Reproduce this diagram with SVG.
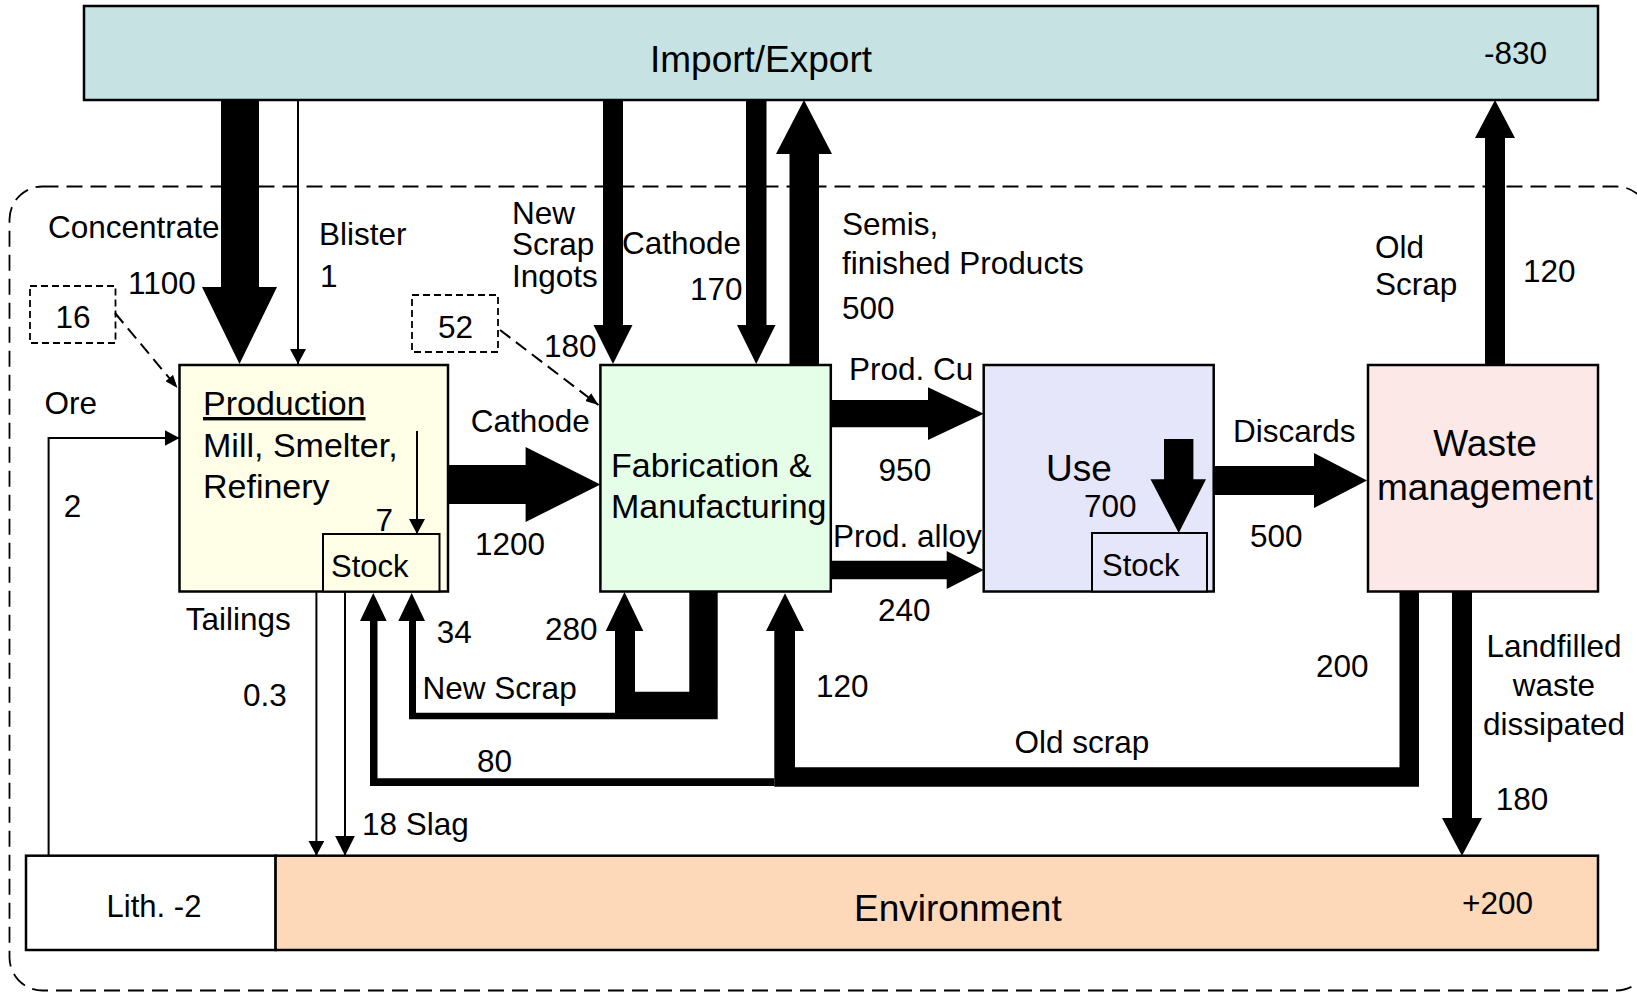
<svg xmlns="http://www.w3.org/2000/svg" width="1637" height="992" viewBox="0 0 1637 992">
<style>
text{font-family:"Liberation Sans",Arial,Helvetica,sans-serif;fill:#000}
.t{font-size:31.5px}
.n{font-size:34px}
.b{font-size:37px}
.s{font-size:31px}
.mid{text-anchor:middle}
.box{stroke:#000;stroke-width:2.5}
.sbox{stroke:#000;stroke-width:2}
.flow{fill:#000;stroke:none}
.thin{stroke:#000;stroke-width:2;fill:none}
.dash{stroke:#000;stroke-width:2;fill:none;stroke-dasharray:13 7}
.dbox{stroke:#000;stroke-width:1.8;fill:#fff;stroke-dasharray:7 4}
.border{stroke:#000;stroke-width:1.8;fill:none;stroke-dasharray:16 8}
</style>
<defs>
<marker id="head" markerUnits="userSpaceOnUse" markerWidth="15" markerHeight="16" viewBox="0 0 15 16" refX="15" refY="8" orient="auto">
<path d="M0,0 L15,8 L0,16 Z" fill="#000"/>
</marker>
<marker id="headL" markerUnits="userSpaceOnUse" markerWidth="20" markerHeight="20" viewBox="0 0 20 20" refX="20" refY="10" orient="auto">
<path d="M0,0 L20,10 L0,20 Z" fill="#000"/>
</marker>
<marker id="headS" markerUnits="userSpaceOnUse" markerWidth="13" markerHeight="10" viewBox="0 0 13 10" refX="13" refY="5" orient="auto">
<path d="M0,0 L13,5 L0,10 Z" fill="#000"/>
</marker>
</defs>

<!-- system boundary -->
<rect class="border" x="9.5" y="186.5" width="1640" height="804" rx="33" ry="33"/>

<!-- nodes -->
<g id="import-export">
<rect class="box" x="84" y="6" width="1514" height="94" fill="#c6e2e2"/>
<text class="b mid" x="761" y="72">Import/Export</text>
<text class="t" x="1484" y="64">-830</text>
</g>
<g id="production">
<rect class="box" x="179.5" y="365" width="268.5" height="226.5" fill="#ffffe8"/>
<rect class="sbox" x="323" y="534" width="116.5" height="57.5" fill="#ffffe8"/>
<text class="n" x="203" y="415" text-decoration="underline">Production</text>
<text class="n" x="203" y="457">Mill, Smelter,</text>
<text class="n" x="203" y="498">Refinery</text>
<text class="s" x="331" y="577">Stock</text>
</g>
<g id="fabrication">
<rect class="box" x="600.4" y="365" width="230.4" height="226.5" fill="#e5fee8"/>
<text class="n" x="611" y="477">Fabrication &amp;</text>
<text class="n" x="611" y="518">Manufacturing</text>
</g>
<g id="use">
<rect class="box" x="983.7" y="365" width="230" height="226.5" fill="#e6e6fa"/>
<rect class="sbox" x="1092" y="533" width="115" height="58.5" fill="#e6e6fa"/>
<text class="b" x="1046" y="481">Use</text>
<text class="s" x="1102" y="576">Stock</text>
</g>
<g id="waste-management">
<rect class="box" x="1368" y="365" width="230" height="226.5" fill="#fde8e8"/>
<text class="b mid" x="1485" y="456">Waste</text>
<text class="b mid" x="1485" y="500">management</text>
</g>
<g id="lithosphere">
<rect class="box" x="26" y="855.7" width="249.6" height="94.3" fill="#fff"/>
<text class="s mid" x="154" y="917">Lith. -2</text>
</g>
<g id="environment">
<rect class="box" x="275.6" y="855.7" width="1322.4" height="94.3" fill="#fdd9b9"/>
<text class="b" x="854" y="921">Environment</text>
<text class="t" x="1462" y="914">+200</text>
</g>
<g id="unaccounted-16">
<rect class="dbox" x="30" y="286" width="85.5" height="57"/>
<text class="t mid" x="73" y="328">16</text>
</g>
<g id="unaccounted-52">
<rect class="dbox" x="412" y="295" width="86" height="57"/>
<text class="t mid" x="455.5" y="338">52</text>
</g>

<!-- connectors -->
<g id="connectors">
<path class="flow" d="M221,100 H259 V287 H277 L239.5,364 L202,287 H221 Z"/>
<line class="thin" x1="298" y1="100" x2="298" y2="364" marker-end="url(#head)"/>
<path class="flow" d="M603,100 H623 V325 H632.5 L613,364 L593.5,325 H603 Z"/>
<path class="flow" d="M746,100 H766.5 V325 H775.5 L756.2,364 L737,325 H746 Z"/>
<path class="flow" d="M789.5,365 V154 H776 L804,100 L832,154 H819 V365 Z"/>
<path class="flow" d="M1485,365 V138 H1475 L1495,100 L1515,138 H1505 V365 Z"/>
<path class="flow" d="M448,465 H525.6 V447 L600.4,484.5 L525.6,522 V504 H448 Z"/>
<path class="flow" d="M831,400 H928 V387.3 L983.7,413.7 L928,440 V427.3 H831 Z"/>
<path class="flow" d="M831,560.7 H946.7 V551 L983.7,570 L946.7,589 V579.3 H831 Z"/>
<path class="flow" d="M1164,439 H1193.4 V479.3 H1206 L1178.7,533 L1150.5,479.3 H1164 Z"/>
<path class="flow" d="M1214,466 H1314 V453 L1367,480.5 L1314,508 V495 H1214 Z"/>
<path class="flow" d="M1452,591.7 H1472 V818 H1482 L1462,855.7 L1442,818 H1452 Z"/>
<path class="flow" d="M689.3,591.7 H717.7 V719.3 H615 V631 H605.7 L624.5,592 L643.3,631 H635 V691.7 H689.3 Z"/>
<path class="flow" d="M615,712.7 H416 V621 H425 L411.7,593 L398.3,621 H409 V719.3 H615 Z"/>
<path class="flow" d="M1399.5,591.7 H1419 V786.7 H774.3 V631 H766 L785,593.3 L804,631 H795 V767.3 H1399.5 Z"/>
<path class="flow" d="M774.3,778.3 H377.5 V621 H386.7 L373.3,593 L360,621 H370 V786 H774.3 Z"/>
<line class="thin" x1="417" y1="431" x2="417" y2="534" marker-end="url(#head)"/>
<line class="thin" x1="316.4" y1="591.7" x2="316.4" y2="855.7" marker-end="url(#head)"/>
<line class="thin" x1="345" y1="591.7" x2="345" y2="855.7" stroke-width="4" marker-end="url(#headL)"/>
<polyline class="thin" points="48.6,855.7 48.6,438 179.5,438" stroke-width="2.5" marker-end="url(#head)"/>
<line class="dash" x1="115" y1="313" x2="177.5" y2="388" marker-end="url(#headS)"/>
<line class="dash" x1="500" y1="330" x2="598.5" y2="405" marker-end="url(#headS)"/>
</g>

<!-- flow labels -->
<g id="labels">
<text class="t" x="48" y="238">Concentrate</text>
<text class="t" x="128" y="294">1100</text>
<text class="t" x="319" y="245">Blister</text>
<text class="t" x="320" y="287">1</text>
<text class="t" x="512" y="224">New</text>
<text class="t" x="512" y="255">Scrap</text>
<text class="t" x="512" y="287">Ingots</text>
<text class="t" x="544" y="357">180</text>
<text class="t" x="622" y="254">Cathode</text>
<text class="t" x="690" y="300">170</text>
<text class="t" x="842" y="235">Semis,</text>
<text class="t" x="842" y="274">finished Products</text>
<text class="t" x="842" y="319">500</text>
<text class="t" x="1375" y="258">Old</text>
<text class="t" x="1375" y="295">Scrap</text>
<text class="t" x="1523" y="282">120</text>
<text class="t" x="44.5" y="414">Ore</text>
<text class="t" x="63.8" y="517">2</text>
<text class="t" x="470.7" y="432">Cathode</text>
<text class="t" x="475" y="555">1200</text>
<text class="t" x="375.5" y="531">7</text>
<text class="t" x="849" y="380">Prod. Cu</text>
<text class="t" x="878.6" y="481">950</text>
<text class="t" x="833" y="547">Prod. alloy</text>
<text class="t" x="878" y="621">240</text>
<text class="t" x="1084" y="517">700</text>
<text class="t" x="1233" y="442">Discards</text>
<text class="t" x="1250" y="547">500</text>
<text class="t" x="185.7" y="630">Tailings</text>
<text class="t" x="436.7" y="643">34</text>
<text class="t" x="545" y="640">280</text>
<text class="t" x="243" y="706">0.3</text>
<text class="t" x="422.6" y="699">New Scrap</text>
<text class="t" x="816" y="697">120</text>
<text class="t" x="477" y="772">80</text>
<text class="t" x="362" y="835">18 Slag</text>
<text class="t" x="1014.6" y="753">Old scrap</text>
<text class="t" x="1316" y="677">200</text>
<text class="t mid" x="1554" y="657">Landfilled</text>
<text class="t mid" x="1554" y="696">waste</text>
<text class="t mid" x="1554" y="735">dissipated</text>
<text class="t" x="1495.7" y="810">180</text>
</g>
</svg>
